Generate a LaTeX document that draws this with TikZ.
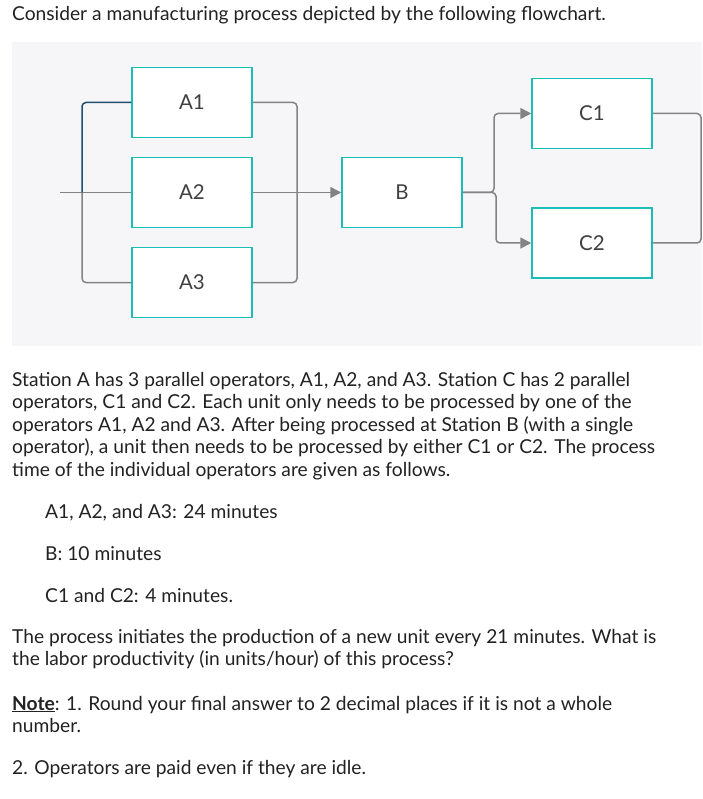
\documentclass[tikz,border=0pt]{standalone}
\usepackage{fontspec}
\setmainfont{Lato}
\usetikzlibrary{arrows.meta}
\definecolor{teal}{HTML}{1BBDB8}
\definecolor{lgray}{HTML}{838383}
\definecolor{dblue}{HTML}{1F4E6E}
\definecolor{bgc}{HTML}{F6F6F8}
\definecolor{txt}{HTML}{222222}
\begin{document}
\begin{tikzpicture}[x=1pt,y=-1pt,
  box/.style={draw=teal,line width=1.5pt,fill=white,minimum width=120pt,minimum height=70pt,inner sep=0pt,font=\fontsize{20.5}{20}\selectfont,text=black!75},
  con/.style={draw=lgray,line width=1.5pt,rounded corners=4pt},
  arr/.style={con,-{Triangle[length=11pt,width=11pt]}},
  tl/.style={anchor=base west,inner sep=0pt,font=\fontsize{19.2}{22}\selectfont,text=txt}]
\useasboundingbox (0,0) rectangle (702,799);
\fill[white] (0,0) rectangle (702,799);
\fill[bgc] (12,42) rectangle (702,346);
\node[box] (A1) at (192,102.5) {A1};
\node[box] (A2) at (192,192.5) {A2};
\node[box] (A3) at (192,282.5) {A3};
\node[box] (B) at (402,192.5) {B};
\node[box] (C1) at (592,113.5) {C1};
\node[box] (C2) at (592,243) {C2};
\coordinate (in) at (60,192.5);
\coordinate (out) at (701,178);
\draw[con] (in) -- (A2.west);
\draw[con] (A3.west) -| (82,192.5);
\draw[con,draw=dblue] (82,192.5) |- (A1.west);
\draw[con] (A1.east) -| (297,192.5);
\draw[con] (A3.east) -| (297,192.5);
\draw[arr] (A2.east) -- (B.west);
\draw[arr] (B.east) -| (494,160) |- (C1.west);
\draw[arr] (B.east) -| (496,200) |- (C2.west);
\draw[con] (C1.east) -| (out);
\draw[con] (C2.east) -| (out);
\node[tl] (t0) at (12,21) {Consider a manufacturing process depicted by the following flowchart.};
\node[tl] (p1) at (12,386) {Station A has 3 parallel operators, A1, A2, and A3. Station C has 2 parallel};
\node[tl] (p2) at (12,408.5) {operators, C1 and C2. Each unit only needs to be processed by one of the};
\node[tl] (p3) at (12,431) {operators A1, A2 and A3. After being processed at Station B (with a single};
\node[tl] (p4) at (12,453.5) {operator), a unit then needs to be processed by either C1 or C2. The process};
\node[tl] (p5) at (12,476) {time of the individual operators are given as follows.};
\node[tl] (i1) at (45,518) {A1, A2, and A3: 24 minutes};
\node[tl] (i2) at (45,560) {B: 10 minutes};
\node[tl] (i3) at (45,602) {C1 and C2: 4 minutes.};
\node[tl] (q1) at (12,643) {The process initiates the production of a new unit every 21 minutes. What is};
\node[tl] (q2) at (12,665.5) {the labor productivity (in units/hour) of this process?};
\node[tl] (n1) at (12,710) {\underline{\textbf{Note}}: 1. Round your final answer to 2 decimal places if it is not a whole};
\node[tl] (n2) at (12,732.5) {number.};
\node[tl] (n3) at (12,774) {2. Operators are paid even if they are idle.};
\end{tikzpicture}
\end{document}
